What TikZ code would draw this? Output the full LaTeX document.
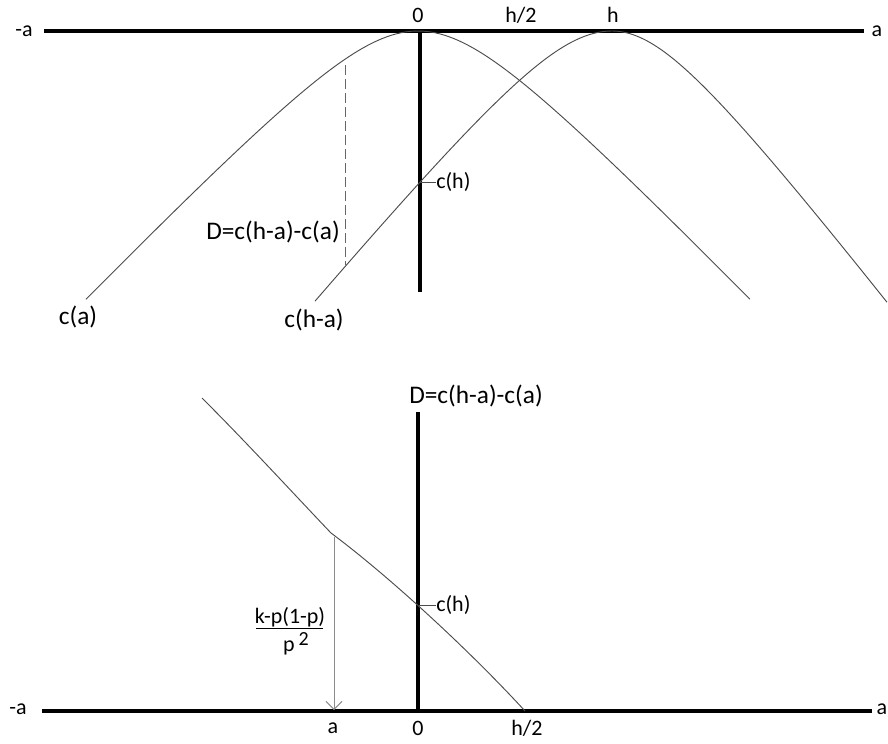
\documentclass[tikz,border=0pt]{standalone}
\usepackage{fontspec}
\setmainfont{Carlito}
\usetikzlibrary{arrows.meta}
\begin{document}
\begin{tikzpicture}[x=0.75pt,y=-0.75pt,
  axis/.style={line width=3pt},
  curve/.style={line width=0.7pt, black!70},
  dashline/.style={line width=0.7pt, black!60, dash pattern=on 7.5pt off 3pt},
  tick/.style={line width=0.7pt, black!70},
  small/.style={font=\fontsize{16.5}{18}\selectfont, inner sep=0pt},
  big/.style={font=\fontsize{19}{22}\selectfont, inner sep=0pt}]
\useasboundingbox (0,0) rectangle (888,743);
% ---------------- top diagram ----------------
\coordinate (tL) at (44,31);
\coordinate (tR) at (864,31);
\draw[axis] (tL) -- (tR);
\coordinate (vT) at (420,31);
\coordinate (vB) at (420,292);
\draw[axis] (vT) -- (vB);
\node[small] (tma) at (24,31) {-a};
\node[small] (ta) at (877,31) {a};
\node[small] (t0) at (418,15) {0};
\node[small] (th2) at (521,15) {h/2};
\node[small] (th) at (613,15) {h};
% curve c(a)
\draw[curve] plot[domain=-3.32:3.32, samples=140, variable=\t]
  ({418+100*\t},{31+100*(sqrt(0.7744+1.0816*\t*\t)-0.88)});
% curve c(h-a)
\draw[curve] plot[domain=-2.97:0, samples=80, variable=\t]
  ({612+100*\t},{31+100*(sqrt(1+1.44*\t*\t)-1)})
  -- plot[domain=0:2.75, samples=80, variable=\t]
  ({612+100*\t},{31+100*(sqrt(1+1.69*\t*\t)-1)});
% dashed D
\coordinate (dT) at (345,65);
\coordinate (dB) at (345,265);
\draw[dashline] (dT) -- (dB);
\node[big, anchor=east] (Dtop) at (340,232) {D=c(h-a)-c(a)};
% c(h)
\coordinate (chA) at (420,182);
\node[small, anchor=west] (chlab) at (436,182) {c(h)};
\draw[tick] (chA) -- (chlab.west);
\node[big] (ca) at (78,317) {c(a)};
\node[big] (cha) at (314,320) {c(h-a)};
% ---------------- bottom diagram ----------------
\coordinate (bL) at (42,711);
\coordinate (bR) at (872,711);
\draw[axis] (bL) -- (bR);
\coordinate (bvT) at (418,412);
\coordinate (bvB) at (418,711);
\draw[axis] (bvT) -- (bvB);
\node[small] (bma) at (18,709) {-a};
\node[small] (ba) at (882,709) {a};
\node[small] (bxa) at (333,728) {a};
\node[small] (b0) at (418,728) {0};
\node[small] (bh2) at (527,728) {h/2};
\node[big] (Dbot) at (476,396) {D=c(h-a)-c(a)};
% curve
\coordinate (g1) at (202,398);
\coordinate (g2) at (331,533);
\coordinate (g3) at (525,711);
\draw[curve] (g1) .. controls (248,444) and (292,492) .. (g2)
  .. controls (390,577) and (470,651) .. (g3);
% arrow
\coordinate (arT) at (334,537);
\coordinate (arB) at (334,710);
\draw[line width=0.7pt, black!45, -{Straight Barb[length=6pt,width=12pt]}] (arT) -- (arB);
% fraction
\node[small] (num) at (290,617) {k-p(1-p)};
\coordinate (fr1) at (256,628);
\coordinate (fr2) at (323,628);
\draw[line width=0.75pt] (fr1) -- (fr2);
\node[small, anchor=base] (den) at (296,651) {p\hspace{3pt}\raisebox{4pt}{\fontsize{15}{15}\selectfont 2}};
% c(h)
\coordinate (chB) at (419,605);
\node[small, anchor=west] (chlab2) at (436,605) {c(h)};
\draw[tick] (chB) -- (chlab2.west);
\end{tikzpicture}
\end{document}
